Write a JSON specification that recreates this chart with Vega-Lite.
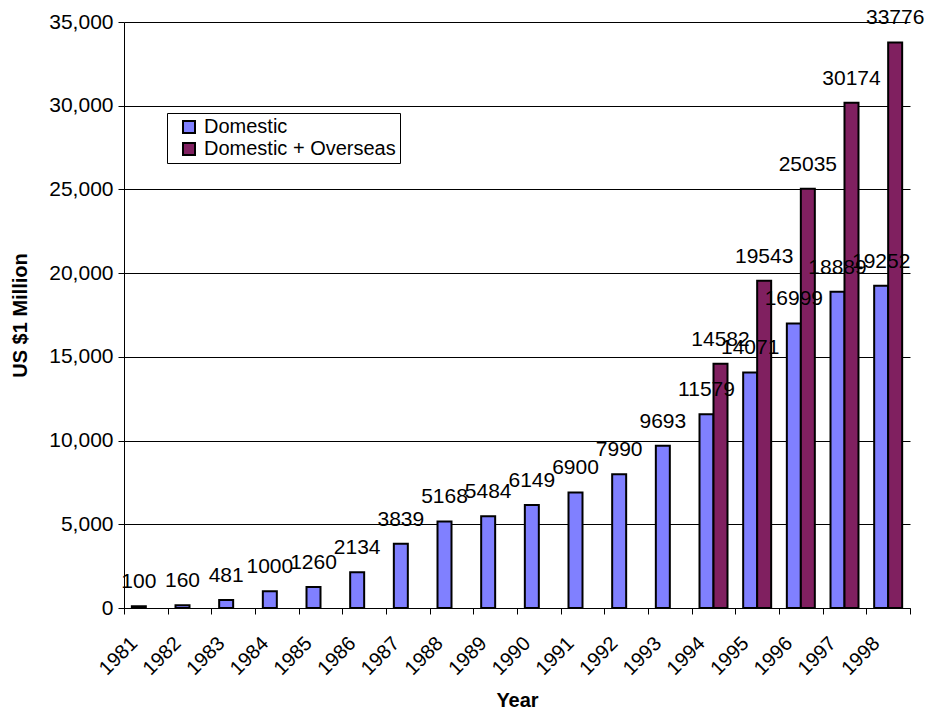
{
  "$schema": "https://vega.github.io/schema/vega-lite/v6.json",
  "width": 786,
  "height": 586,
  "autosize": {"type": "none"},
  "padding": {"left": 124, "top": 22, "right": 17, "bottom": 107},
  "background": "white",
  "config": {
    "font": "Liberation Sans",
    "view": {"stroke": null},
    "axis": {"labelFont": "Liberation Sans", "titleFont": "Liberation Sans", "labelColor": "black", "titleColor": "black", "domainColor": "black", "tickColor": "black"}
  },
  "data": {
    "values": [
      {"year": "1981", "series": "Domestic", "value": 100},
      {"year": "1982", "series": "Domestic", "value": 160},
      {"year": "1983", "series": "Domestic", "value": 481},
      {"year": "1984", "series": "Domestic", "value": 1000},
      {"year": "1985", "series": "Domestic", "value": 1260},
      {"year": "1986", "series": "Domestic", "value": 2134},
      {"year": "1987", "series": "Domestic", "value": 3839},
      {"year": "1988", "series": "Domestic", "value": 5168},
      {"year": "1989", "series": "Domestic", "value": 5484},
      {"year": "1990", "series": "Domestic", "value": 6149},
      {"year": "1991", "series": "Domestic", "value": 6900},
      {"year": "1992", "series": "Domestic", "value": 7990},
      {"year": "1993", "series": "Domestic", "value": 9693},
      {"year": "1994", "series": "Domestic", "value": 11579},
      {"year": "1995", "series": "Domestic", "value": 14071},
      {"year": "1996", "series": "Domestic", "value": 16999},
      {"year": "1997", "series": "Domestic", "value": 18889},
      {"year": "1998", "series": "Domestic", "value": 19252},
      {"year": "1994", "series": "Domestic + Overseas", "value": 14582},
      {"year": "1995", "series": "Domestic + Overseas", "value": 19543},
      {"year": "1996", "series": "Domestic + Overseas", "value": 25035},
      {"year": "1997", "series": "Domestic + Overseas", "value": 30174},
      {"year": "1998", "series": "Domestic + Overseas", "value": 33776}
    ]
  },
  "encoding": {
    "x": {
      "field": "year", "type": "nominal", "title": "Year",
      "scale": {"paddingInner": 0, "paddingOuter": 0},
      "axis": {"labelAngle": -45, "labelAlign": "right", "labelBaseline": "middle", "labelFontSize": 20, "tickBand": "extent", "ticks": true, "tickSize": 6, "tickWidth": 1, "labelPadding": 26, "labelOffset": -12, "titleFontSize": 20, "titleFontWeight": "bold", "titlePadding": 12, "domainWidth": 1}
    },
    "xOffset": {"field": "series", "type": "nominal", "scale": {"domain": ["Domestic", "Domestic + Overseas"], "paddingInner": 0, "paddingOuter": 0.56}},
    "y": {
      "field": "value", "type": "quantitative", "title": "US $1 Million",
      "scale": {"domain": [0, 35000], "nice": false},
      "axis": {"values": [0, 5000, 10000, 15000, 20000, 25000, 30000, 35000], "format": ",d", "labelFontSize": 21, "tickSize": 6, "labelPadding": 5, "grid": true, "gridColor": "black", "gridWidth": 1, "titleFontSize": 20, "titleFontWeight": "bold", "titlePadding": 18}
    }
  },
  "layer": [
    {
      "mark": {"type": "bar", "stroke": "black", "strokeWidth": 2},
      "encoding": {
        "color": {
          "field": "series", "type": "nominal",
          "scale": {"domain": ["Domestic", "Domestic + Overseas"], "range": ["#8080FF", "#802060"]},
          "legend": {"title": null, "orient": "none", "legendX": 43, "legendY": 91, "strokeColor": "black", "fillColor": "white", "padding": 4, "labelFontSize": 20, "labelFont": "Liberation Sans", "labelColor": "black", "labelLimit": 0, "symbolType": "square", "symbolSize": 144, "symbolStrokeColor": "black", "symbolStrokeWidth": 2, "symbolOffset": 8, "rowPadding": 2, "labelOffset": 5, "cornerRadius": 0}
        }
      }
    },
    {
      "mark": {"type": "text", "fontSize": 21, "baseline": "alphabetic", "dy": -18, "color": "black"},
      "encoding": {"text": {"field": "value", "type": "quantitative", "format": "d"}}
    }
  ]
}
